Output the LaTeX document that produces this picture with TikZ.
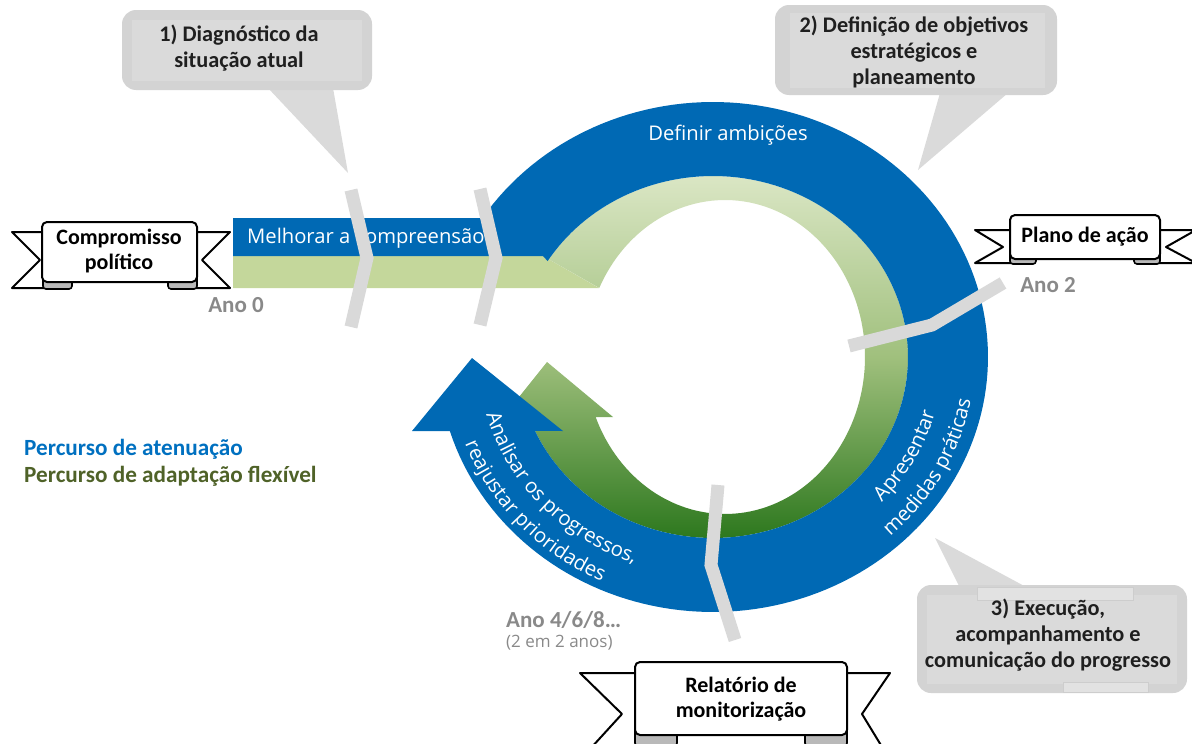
\documentclass[tikz,border=0pt]{standalone}
\usepackage{fontspec}
\setmainfont{Carlito}
\newfontfamily\seg{Open Sans}
\usetikzlibrary{decorations.text}
\definecolor{bandblue}{RGB}{0,105,180}
\definecolor{sepgray}{RGB}{217,217,217}
\definecolor{callrim}{RGB}{211,211,211}
\definecolor{callin}{RGB}{218,218,218}
\definecolor{patch}{RGB}{226,226,226}
\definecolor{patchline}{RGB}{205,205,205}
\definecolor{lgreen}{RGB}{196,215,155}
\definecolor{gtop}{RGB}{218,230,196}
\definecolor{gmid}{RGB}{160,192,125}
\definecolor{gbot}{RGB}{45,120,30}
\definecolor{legblue}{RGB}{0,112,192}
\definecolor{leggreen}{RGB}{79,98,40}
\definecolor{anogray}{RGB}{137,137,137}
\definecolor{foldgray}{RGB}{185,185,185}
\tikzset{
  sepline/.style={draw=sepgray, line width=13pt},
  callbody/.style={fill=callrim, rounded corners=14pt},
  callinner/.style={fill=callin},
  calltail/.style={fill=callin},
  calltext/.style={font=\fontsize{22.3}{26}\selectfont\bfseries, align=center, text=black!88},
  bantext/.style={font=\fontsize{22}{25}\selectfont\bfseries, align=center},
  ribbon/.style={draw=black, line width=2pt, fill=white, line join=round},
  fold/.style={draw=black, line width=1.6pt, fill=foldgray, rounded corners=3pt},
  whitetext/.style={font=\seg\fontsize{20.2}{24}\selectfont, text=white, inner sep=0pt},
  anotext/.style={font=\fontsize{23}{26}\selectfont\bfseries, text=anogray, inner sep=0pt},
  legtext/.style={font=\fontsize{23.2}{26}\selectfont\bfseries, anchor=west, inner sep=0pt},
}
\begin{document}
\begin{tikzpicture}[x=1pt,y=-1pt]
\useasboundingbox (0,0) rectangle (1192,744);
% ---------- green path (adaptation) ----------
\fill[lgreen] (233,256) -- (543,256) -- (599,288) -- (233,288) -- cycle;
\shade[top color=gtop, bottom color=gbot, middle color=gmid]
  (543,256) -- plot[domain=0:308.6, samples=140] ({713+195*cos(148-\x)}, {357-181*sin(148-\x)})
  -- (503,417) -- (547,362) -- (613,417)
  -- plot[domain=0:311.4, samples=140] ({725+140*cos(-157.5+\x)}, {357-157*sin(-157.5+\x)})
  -- cycle;
% ---------- blue path (mitigation) ----------
\fill[bandblue] (233,218) -- (482,218)
  -- plot[domain=0:310.1, samples=160] ({713+275*cos(147-\x)}, {357-255*sin(147-\x)})
  -- (412,431) -- (472,358) -- (563,431)
  -- plot[domain=0:303.9, samples=160] ({713+195*cos(-155.9+\x)}, {357-181*sin(-155.9+\x)})
  -- (543,256) -- (233,256) -- cycle;
% ---------- texts on the bands ----------
\node[whitetext, anchor=west] (mc) at (247,238) {Melhorar a compreensão};
\node[whitetext] (da) at (728,135) {Definir ambições};
\path[decorate, decoration={text along path, text align=center,
  text={|\seg\fontsize{20.3}{22}\selectfont\color{white}|Analisar os progressos,}}]
  plot[domain=172:272, samples=100] ({713+235*cos(\x)}, {357-219*sin(\x)});
\path[decorate, decoration={text along path, text align=center,
  text={|\seg\fontsize{20.3}{22}\selectfont\color{white}|reajustar prioridades}}]
  plot[domain=172:272, samples=100] ({713+265*cos(\x)}, {357-247*sin(\x)});
\path[decorate, decoration={text along path, text align=center,
  text={|\seg\fontsize{20.3}{22}\selectfont\color{white}|Apresentar}}]
  plot[domain=-78:22, samples=100] ({713+230*cos(\x)}, {357-214*sin(\x)});
\path[decorate, decoration={text along path, text align=center,
  text={|\seg\fontsize{20.3}{22}\selectfont\color{white}|medidas práticas}}]
  plot[domain=-78:22, samples=100] ({713+262*cos(\x)}, {357-244*sin(\x)});
% ---------- separators ----------
\coordinate (s1a) at (351,190); \coordinate (s1b) at (367,258); \coordinate (s1c) at (351,327);
\coordinate (s2a) at (480,189); \coordinate (s2b) at (496,258); \coordinate (s2c) at (480,325);
\coordinate (s3a) at (849,346); \coordinate (s3b) at (932,325); \coordinate (s3c) at (1003,283);
\coordinate (s4a) at (718,485); \coordinate (s4b) at (711,565); \coordinate (s4c) at (735,640);
\draw[sepline] (s1a) -- (s1b) -- (s1c);
\draw[sepline] (s2a) -- (s2b) -- (s2c);
\draw[sepline] (s3a) -- (s3b) -- (s3c);
\draw[sepline] (s4a) -- (s4b) -- (s4c);
% ---------- callouts ----------
\fill[calltail] (268,88) -- (333,88) -- (348,173) -- cycle;
\fill[callbody] (122,10) rectangle (372,90);
\fill[callinner] (132,20) rectangle (362,81);
\node[calltext] (c1) at (239,48) {1) Diagnóstico da\\situação atual};
\fill[calltail] (940,93) -- (1008,93) -- (918,170) -- cycle;
\fill[callbody] (775,5) rectangle (1057,95);
\fill[callinner] (790,13) rectangle (1045,88);
\node[calltext] (c2) at (914,52) {2) Definição de objetivos\\estratégicos e\\planeamento};
\fill[calltail] (960,588) -- (1028,588) -- (935,538) -- cycle;
\fill[callbody] (917,585) rectangle (1187,693);
\fill[callinner] (927,595) rectangle (1177,684);
\filldraw[fill=patch, draw=patchline, line width=0.8pt] (977,587) rectangle (1133,600);
\filldraw[fill=patch, draw=patchline, line width=0.8pt] (1063,682) rectangle (1148,692);
\node[calltext] (c3) at (1048,635) {3) Execução,\\acompanhamento e\\comunicação do progresso};
% ---------- banner 1 ----------
\draw[ribbon] (12,232) -- (64,232) -- (64,288) -- (12,288) -- (40,260) -- cycle;
\draw[ribbon] (230,232) -- (176,232) -- (176,288) -- (230,288) -- (202,260) -- cycle;
\draw[fold] (43,272) rectangle (72,289);
\draw[fold] (168,272) rectangle (197,289);
\draw[ribbon, rounded corners=5pt] (42,222) rectangle (197,282);
\node[bantext] (b1) at (119,251) {Compromisso\\político};
% ---------- banner 2 ----------
\draw[ribbon] (975,230) -- (1025,230) -- (1025,263) -- (975,263) -- (1003,247) -- cycle;
\draw[ribbon] (1196,230) -- (1145,230) -- (1145,263) -- (1196,263) -- (1166,247) -- cycle;
\draw[fold] (1010,250) rectangle (1036,264);
\draw[fold] (1134,250) rectangle (1160,264);
\draw[ribbon, rounded corners=5pt] (1010,215) rectangle (1160,259);
\node[bantext] (b2) at (1085,237) {Plano de ação};
% ---------- banner 3 ----------
\draw[ribbon] (580,673) -- (660,673) -- (660,760) -- (580,760) -- (622,714) -- cycle;
\draw[ribbon] (890,673) -- (822,673) -- (822,760) -- (890,760) -- (862,714) -- cycle;
\draw[fold] (635,725) rectangle (677,746);
\draw[fold] (805,725) rectangle (847,746);
\draw[ribbon, rounded corners=5pt] (635,662) rectangle (847,735);
\node[bantext] (b3) at (741,699) {Relatório de\\monitorização};
% ---------- year labels ----------
\node[anotext] (a0) at (236,305) {Ano 0};
\node[anotext] (a2) at (1048,285) {Ano 2};
\node[anotext, anchor=west] (a4) at (506,620) {Ano 4/6/8…};
\node[font=\seg\fontsize{17}{20}\selectfont, text=anogray, anchor=west, inner sep=0pt] (a4b) at (506,643) {(2 em 2 anos)};
% ---------- legend ----------
\node[legtext, text=legblue] (l1) at (24,449) {Percurso de atenuação};
\node[legtext, text=leggreen] (l2) at (24,476) {Percurso de adaptação flexível};
\end{tikzpicture}
\end{document}
